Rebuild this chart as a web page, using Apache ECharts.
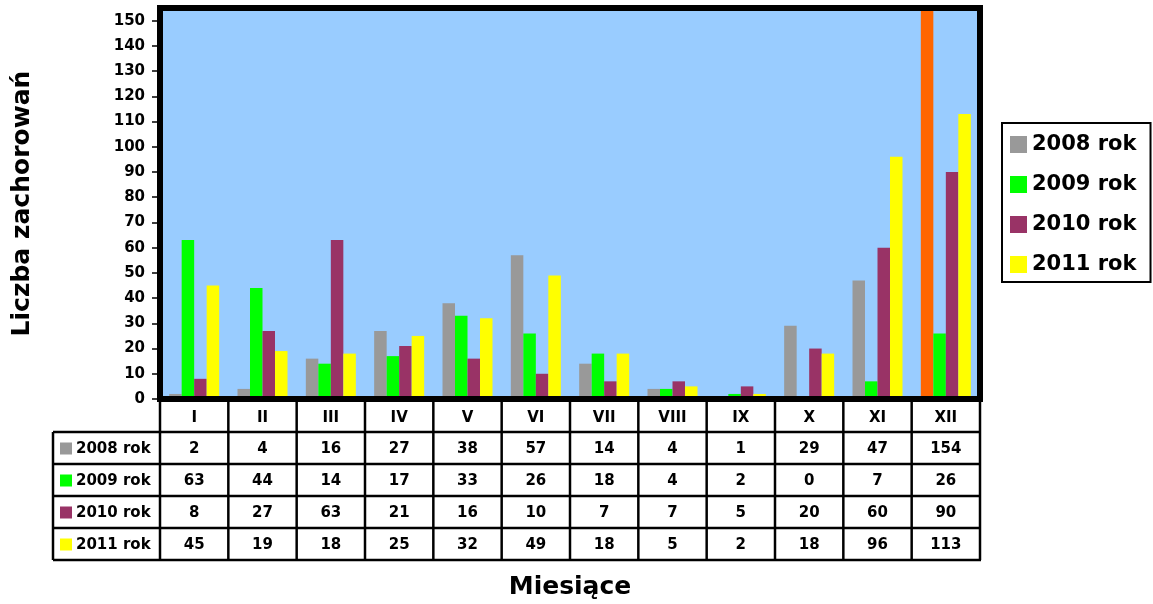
<!DOCTYPE html>
<html>
<head>
<meta charset="utf-8">
<script src="https://cdn.jsdelivr.net/npm/echarts@6/dist/echarts.min.js"></script>
<style>
  html, body { margin: 0; padding: 0; background: #ffffff; }
  #chart { width: 1153px; height: 604px; }
</style>
</head>
<body>
<div id="chart"></div>
<script>
// Monthly case counts per year
const months = ['I', 'II', 'III', 'IV', 'V', 'VI', 'VII', 'VIII', 'IX', 'X', 'XI', 'XII'];
const seriesNames = ['2008 rok', '2009 rok', '2010 rok', '2011 rok'];
const v2008 = [2, 4, 16, 27, 38, 57, 14, 4, 1, 29, 47, 154];
const v2009 = [63, 44, 14, 17, 33, 26, 18, 4, 2, 0, 7, 26];
const v2010 = [8, 27, 63, 21, 16, 10, 7, 7, 5, 20, 60, 90];
const v2011 = [45, 19, 18, 25, 32, 49, 18, 5, 2, 18, 96, 113];
const seriesValues = [v2008, v2009, v2010, v2011];
const seriesColors = ['#999999', '#00FF00', '#993366', '#FFFF00'];
// December 2008 is drawn in a separate accent colour
const accentIndex = 11;
const accentColor = '#FF6600';
const yMin = 0, yMax = 155, yStep = 10;

const FONT = 'DejaVu Sans';
const chart = echarts.init(document.getElementById('chart'), null, { renderer: 'canvas' });

const grid = { left: 160, right: 173, top: 8, bottom: 205 };

const series = seriesValues.map((vals, si) => ({
  name: seriesNames[si],
  type: 'bar',
  barWidth: 12.5,
  barGap: '0%',
  itemStyle: { color: seriesColors[si] },
  data: vals.map((v, i) => (si === 0 && i === accentIndex)
    ? { value: v, itemStyle: { color: accentColor } }
    : v),
  z: 2
}));

chart.setOption({
  animation: false,
  backgroundColor: '#ffffff',
  grid: Object.assign({
    show: true, backgroundColor: '#99CCFF', borderWidth: 0,
    containLabel: false, outerBoundsMode: 'none'
  }, grid),
  legend: {
    orient: 'vertical',
    left: 1002,
    top: 123,
    icon: 'rect',
    itemWidth: 17,
    itemHeight: 17,
    itemGap: 17,
    padding: [10, 14, 6, 8],
    borderColor: '#000000',
    borderWidth: 2,
    textStyle: { fontFamily: FONT, fontWeight: 'bold', fontSize: 21, color: '#000', lineHeight: 23 },
    data: seriesNames
  },
  xAxis: {
    type: 'category',
    data: months,
    axisLine: { show: false },
    axisTick: { show: false },
    axisLabel: { show: false },
    splitLine: { show: false },
    name: 'Miesiące',
    nameLocation: 'middle',
    nameGap: 176,
    nameTextStyle: { fontFamily: FONT, fontWeight: 'bold', fontSize: 25, color: '#000' }
  },
  yAxis: {
    type: 'value',
    min: yMin,
    max: yMax,
    interval: yStep,
    axisLine: { show: false },
    axisTick: { show: true, length: 8, lineStyle: { color: '#000', width: 1.5 } },
    axisLabel: {
      showMaxLabel: false,
      margin: 15,
      fontFamily: FONT, fontWeight: 'bold', fontSize: 15, color: '#000'
    },
    splitLine: { show: false },
    name: 'Liczba zachorowań',
    nameLocation: 'middle',
    nameGap: 125,
    nameTextStyle: { fontFamily: FONT, fontWeight: 'bold', fontSize: 25, color: '#000' }
  },
  series: series
});

// Data table under the plot, laid out on the category axis
function buildTable() {
  const px = months.map(m => chart.convertToPixel({ xAxisIndex: 0 }, m));
  const band = px[1] - px[0];
  const gx0 = px[0] - band / 2;
  const gx1 = px[px.length - 1] + band / 2;
  const gTop = chart.convertToPixel({ yAxisIndex: 0 }, yMax);
  const gBottom = chart.convertToPixel({ yAxisIndex: 0 }, yMin);
  const frameW = 6;
  const catTop = gBottom + frameW / 2;
  const rowEdges = [432, 464, 496, 528, 560];
  const headLeft = 53;
  const lineW = 2.5;
  const els = [];

  // horizontal table rules
  rowEdges.forEach(y => {
    els.push({ type: 'line', shape: { x1: headLeft, y1: y, x2: gx1 + 1, y2: y },
      style: { stroke: '#000', lineWidth: lineW }, z: 5 });
  });
  // vertical rules at category boundaries
  for (let i = 0; i <= months.length; i++) {
    const x = gx0 + i * band;
    els.push({ type: 'line', shape: { x1: x, y1: gBottom, x2: x, y2: rowEdges[rowEdges.length - 1] },
      style: { stroke: '#000', lineWidth: lineW }, z: 5 });
  }
  els.push({ type: 'line', shape: { x1: headLeft, y1: rowEdges[0], x2: headLeft, y2: rowEdges[rowEdges.length - 1] },
    style: { stroke: '#000', lineWidth: lineW }, z: 5 });

  const textStyle = { fontFamily: FONT, fontWeight: 'bold', fontSize: 15, fill: '#000' };
  // category labels
  months.forEach((m, i) => {
    els.push({ type: 'text', x: px[i], y: (catTop + rowEdges[0]) / 2 + 1,
      style: Object.assign({ text: m, align: 'center', verticalAlign: 'middle' }, textStyle), z: 6 });
  });
  // value rows
  seriesValues.forEach((vals, si) => {
    const yc = (rowEdges[si] + rowEdges[si + 1]) / 2 + 1;
    els.push({ type: 'rect', shape: { x: 60, y: yc - 6.5, width: 12, height: 12 },
      style: { fill: seriesColors[si] }, z: 6 });
    els.push({ type: 'text', x: 76, y: yc,
      style: Object.assign({ text: seriesNames[si], align: 'left', verticalAlign: 'middle' }, textStyle), z: 6 });
    vals.forEach((v, i) => {
      els.push({ type: 'text', x: px[i], y: yc,
        style: Object.assign({ text: String(v), align: 'center', verticalAlign: 'middle' }, textStyle), z: 6 });
    });
  });

  // heavy frame around the plot area
  els.push({ type: 'rect', shape: { x: gx0, y: gTop, width: gx1 - gx0, height: gBottom - gTop },
    style: { fill: 'none', stroke: '#000', lineWidth: frameW }, z: 20 });

  chart.setOption({ graphic: els });
}
buildTable();
</script>
</body>
</html>
